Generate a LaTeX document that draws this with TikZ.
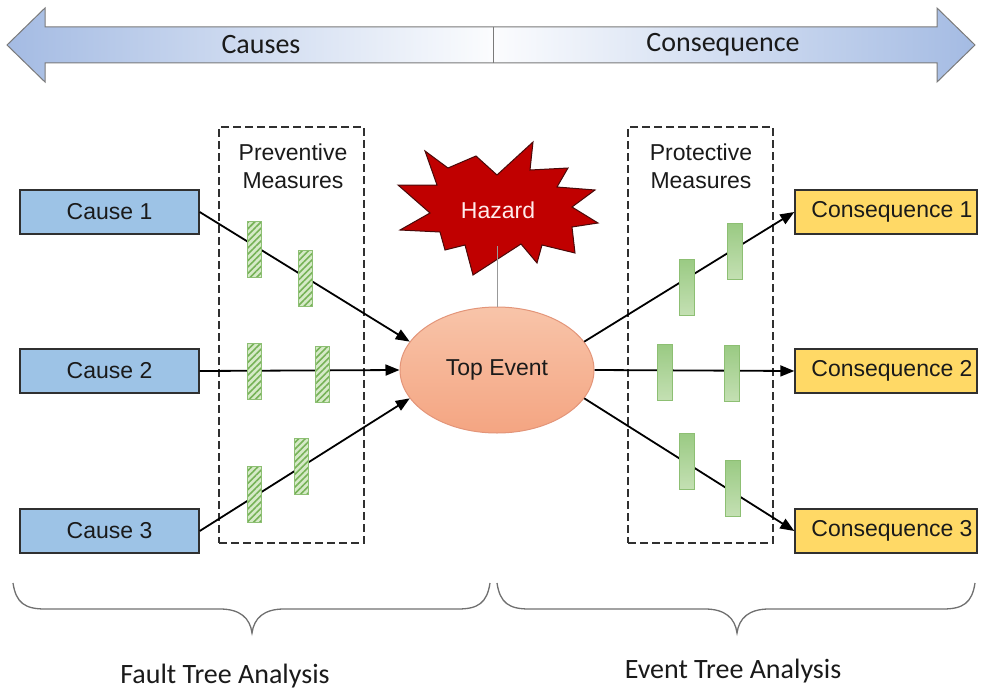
\documentclass[tikz,border=0pt]{standalone}
\usepackage{fontspec}
\setmainfont{Liberation Sans}
\newfontfamily\calibri{Carlito}
\usetikzlibrary{arrows.meta,patterns.meta,shapes.geometric}
\definecolor{causeblue}{HTML}{9DC3E6}
\definecolor{consyellow}{HTML}{FFD966}
\definecolor{boxline}{HTML}{303030}
\definecolor{hazred}{HTML}{C00000}
\definecolor{hazline}{HTML}{4A0A0A}
\definecolor{tetop}{HTML}{F8C4A9}
\definecolor{tebot}{HTML}{F4A582}
\definecolor{teline}{HTML}{E39579}
\definecolor{bandblue}{HTML}{A4BBE3}
\definecolor{bandline}{HTML}{7A7A7A}
\definecolor{greenline}{HTML}{8DBF73}
\definecolor{greenhatch}{HTML}{76B257}
\definecolor{greenbg}{HTML}{D6EAC8}
\definecolor{greentop}{HTML}{9ACA83}
\definecolor{greenbot}{HTML}{C4E0B3}
\definecolor{bracegray}{HTML}{707070}
\definecolor{txtdark}{HTML}{1A1A1A}
\begin{document}
\begin{tikzpicture}[x=1pt,y=-1pt,
  causebox/.style={draw=boxline,line width=1.4pt,fill=causeblue,minimum width=179pt,minimum height=44pt,inner sep=0pt,text=txtdark,font=\fontsize{23}{27}\selectfont},
  consbox/.style={causebox,fill=consyellow,minimum width=182pt},
  dashbox/.style={draw=boxline,dash pattern=on 8pt off 4pt,line width=1.3pt,minimum width=145pt,minimum height=416pt,inner sep=0pt},
  lbl/.style={align=center,text=txtdark,font=\fontsize{23}{28}\selectfont},
  arr/.style={line width=1.8pt,-{Triangle[length=14pt,width=11pt]}},
  barL/.style={draw=greenline,line width=1pt,minimum width=14pt,minimum height=56pt,inner sep=0pt,
     preaction={fill=greenbg},pattern={Lines[angle=45,distance=4.5pt,line width=1.6pt]},pattern color=greenhatch},
  barR/.style={draw=greenline,line width=1pt,minimum width=15pt,minimum height=56pt,inner sep=0pt,top color=greentop,bottom color=greenbot},
  bandtext/.style={font=\calibri\fontsize{28}{32}\selectfont,text=txtdark},
  brace/.style={draw=bracegray,line width=1.3pt},
  brtext/.style={font=\calibri\fontsize{28}{32}\selectfont,text=txtdark}]
\useasboundingbox (0,0) rectangle (982,693);

% top double arrow band
\path[left color=bandblue,right color=white!96!bandblue] (7,45) -- (45,8) -- (45,27) -- (493,27) -- (493,63) -- (45,63) -- (45,82) -- cycle;
\path[left color=white!96!bandblue,right color=bandblue] (493,27) -- (937,27) -- (937,8) -- (975,45) -- (937,82) -- (937,63) -- (493,63) -- cycle;
\draw[bandline,line width=1pt] (7,45) -- (45,8) -- (45,27) -- (937,27) -- (937,8) -- (975,45) -- (937,82) -- (937,63) -- (45,63) -- (45,82) -- cycle;
\draw[bandline,line width=1pt] (493,27) -- (493,63);
\node[bandtext] (causes) at (261,45) {Causes};
\node[bandtext] (conseq) at (723,45) {Consequence};

% dashed boxes
\node[dashbox] (pm) at (291.5,335) {};
\node[dashbox] (pr) at (700.5,335) {};
\node[lbl] (pmt) at (293,166) {Preventive\\Measures};
\node[lbl] (prt) at (701,166) {Protective\\Measures};

% cause and consequence boxes
\node[causebox] (c1) at (109.5,212) {Cause 1};
\node[causebox] (c2) at (109.5,371) {Cause 2};
\node[causebox] (c3) at (109.5,531) {Cause 3};
\node[consbox] (k1) at (886,212) {\hspace*{12pt}Consequence 1};
\node[consbox] (k2) at (886,371) {\hspace*{12pt}Consequence 2};
\node[consbox] (k3) at (886,531) {\hspace*{12pt}Consequence 3};

% top event
\node[ellipse,draw=teline,line width=1pt,top color=tetop,bottom color=tebot,minimum width=194pt,minimum height=126pt,inner sep=0pt,text=txtdark,font=\fontsize{23}{27}\selectfont] (te) at (497,370) {Top Event};

% hazard starburst
\draw[fill=hazred,draw=hazline,line width=1pt,line join=miter]
  (425,151) -- (448,168) -- (476,156) -- (497,175) -- (533,142) -- (530,170) -- (568,168) -- (557,187)
  -- (595,190) -- (572,207) -- (598,223) -- (572,227) -- (575,253) -- (542,245) -- (537,263) -- (521,244)
  -- (473,275) -- (465,245) -- (445,250) -- (440,232) -- (400,230) -- (430,213) -- (398,185) -- (437,185) -- cycle;
\node[text=white!92!red,font=\fontsize{23}{27}\selectfont] (hz) at (498,210) {Hazard};
\coordinate (hzb) at (497,246);
\draw[gray!80,line width=1pt] (hzb) -- (te.north);

% connectors
\draw[arr] (c1.east) -- (te.162);
\draw[arr] (c2.east) -- (te.west);
\draw[arr] (c3.east) -- (te.198);
\draw[arr] (te.18) -- (k1.west);
\draw[arr] (te.east) -- (k2.west);
\draw[arr] (te.-18) -- (k3.west);

% barriers
\node[barL] (l1) at (254,249) {};
\node[barL] (l2) at (305,278) {};
\node[barL] (l3) at (254,371) {};
\node[barL] (l4) at (322,374) {};
\node[barL] (l5) at (254,494) {};
\node[barL] (l6) at (301,466) {};
\node[barR] (r1) at (687,287) {};
\node[barR] (r2) at (734.5,251.5) {};
\node[barR] (r3) at (664.5,372.5) {};
\node[barR] (r4) at (732,373.5) {};
\node[barR] (r5) at (687,461) {};
\node[barR] (r6) at (732.5,488) {};

% braces
\draw[brace] (13,583) .. controls (16,603) and (25,609) .. (45,609) -- (220,609)
  .. controls (240,609) and (250,618) .. (252,633) .. controls (254,618) and (264,609) .. (284,609)
  -- (458,609) .. controls (478,609) and (487,603) .. (490,583);
\draw[brace] (497,583) .. controls (500,603) and (509,609) .. (529,609) -- (705,609)
  .. controls (725,609) and (735,618) .. (737,633) .. controls (739,618) and (749,609) .. (769,609)
  -- (943,609) .. controls (963,609) and (972,603) .. (975,583);
\node[brtext] (fta) at (225,676) {Fault Tree Analysis};
\node[brtext] (eta) at (733,671) {Event Tree Analysis};
\end{tikzpicture}
\end{document}
